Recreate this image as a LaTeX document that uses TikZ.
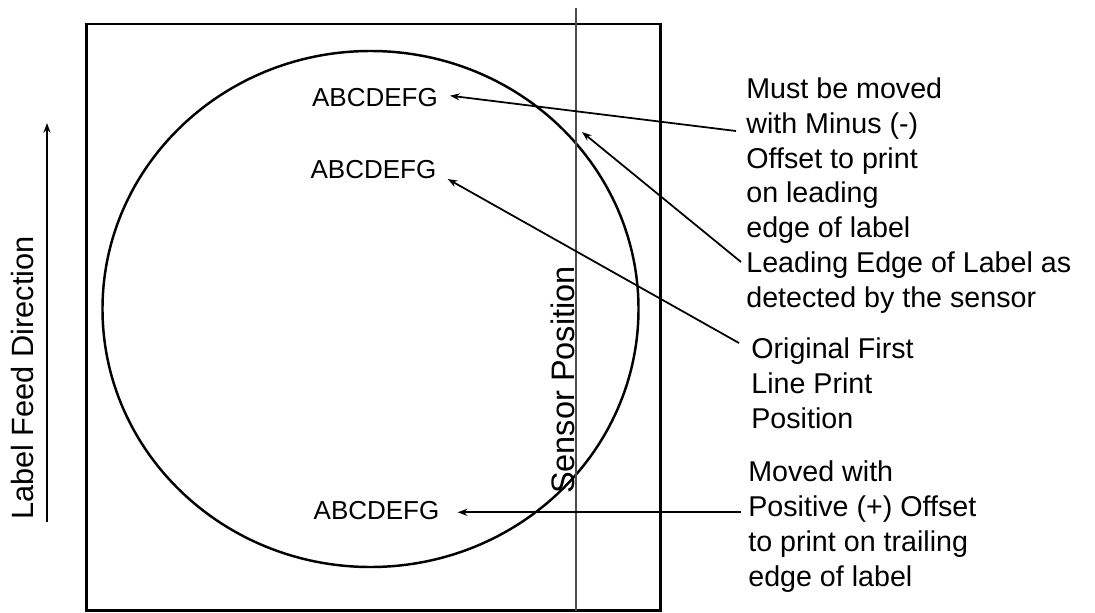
\documentclass[tikz,border=0pt]{standalone}
\usepackage{fontspec}
\setmainfont{Liberation Sans}
\usetikzlibrary{arrows.meta}
\begin{document}
\begin{tikzpicture}[x=0.02cm,y=-0.02cm,
  note/.style={inner sep=0pt,anchor=north west,align=left,font=\fontsize{16.3}{19.9}\selectfont},
  sample/.style={inner sep=0pt,anchor=base,font=\fontsize{14.8}{17}\selectfont},
  side/.style={inner sep=0pt,anchor=base,rotate=90,font=\fontsize{17.5}{20}\selectfont},
  conn/.style={line width=1pt,-{Stealth[length=5.5pt,width=4pt]}},
  frame/.style={line width=1.6pt},
  disc/.style={line width=1.4pt},
  sensor/.style={line width=0.6pt,gray!60!black}]
\useasboundingbox (0,0) rectangle (1095,612);
% label frame
\draw[frame] (86.5,24) rectangle (660.5,610.5);
% round label
\draw[disc] (370.5,309) ellipse [x radius=268, y radius=258];
% sensor line
\draw[sensor] (576,8) -- (576,610.5);
% feed direction
\coordinate (fa) at (47,522);
\coordinate (fb) at (47,123);
\draw[conn] (fa) -- (fb);
\node[side] (feed) at (33,378) {Label Feed Direction};
\node[side,font=\fontsize{18.5}{21}\selectfont] (sens) at (574.5,380) {Sensor Position};
% samples
\node[sample] (t1) at (375,106) {ABCDEFG};
\node[sample] (t2) at (373.5,178.3) {ABCDEFG};
\node[sample] (t3) at (376.5,519.3) {ABCDEFG};
% notes
\node[note] (n1) at (746,77) {Must be moved\\with Minus (-)\\Offset to print\\on leading\\edge of label};
\node[note] (n2) at (746,251.5) {Leading Edge of Label as\\detected by the sensor};
\node[note] (n3) at (751,337) {Original First\\Line Print\\Position};
\node[note] (n4) at (748,460.5) {Moved with\\Positive (+) Offset\\to print on trailing\\edge of label};
% connector ends
\coordinate (c1) at (736,131);
\coordinate (c2) at (741,262);
\coordinate (c3) at (739,343);
\coordinate (c4) at (741,512.3);
\coordinate (p1) at (450,95.7);
\coordinate (p2) at (582,132);
\coordinate (p3) at (447.7,179);
\coordinate (p4) at (457.7,512.3);
\draw[conn] (c1) -- (p1);
\draw[conn] (c2) -- (p2);
\draw[conn] (c3) -- (p3);
\draw[conn] (c4) -- (p4);
\end{tikzpicture}
\end{document}
